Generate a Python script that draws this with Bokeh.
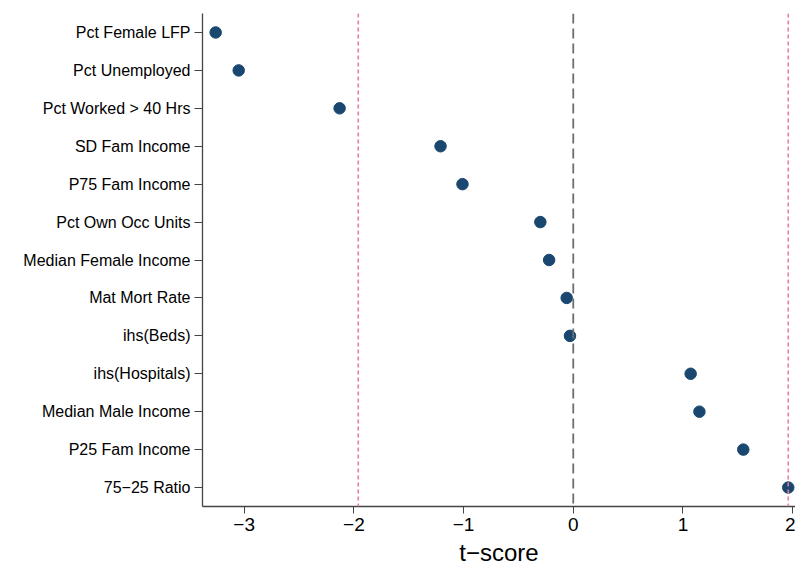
from bokeh.plotting import figure
from bokeh.models import Span, FactorRange, Range1d, FixedTicker
from bokeh.embed import file_html
from bokeh.resources import INLINE

categories = ["Pct Female LFP", "Pct Unemployed", "Pct Worked > 40 Hrs", "SD Fam Income",
              "P75 Fam Income", "Pct Own Occ Units", "Median Female Income", "Mat Mort Rate",
              "ihs(Beds)", "ihs(Hospitals)", "Median Male Income", "P25 Fam Income", "75\u221225 Ratio"]
tscores = [-3.26, -3.05, -2.13, -1.21, -1.01, -0.30, -0.22, -0.06, -0.03, 1.07, 1.15, 1.55, 1.96]
x_ticks = [-3, -2, -1, 0, 1, 2]
x_tick_labels = ["\u22123", "\u22122", "\u22121", "0", "1", "2"]
crit = [-1.96, 1.96]

p = figure(width=795, height=568, output_backend="svg", toolbar_location=None,
           y_range=FactorRange(factors=list(reversed(categories))),
           x_range=Range1d(-3.38, 2.026),
           min_border_left=202, min_border_right=0, min_border_top=13, min_border_bottom=61)

p.xgrid.visible = False
p.ygrid.visible = False
p.outline_line_color = None

for c in crit:
    p.add_layout(Span(location=c, dimension="height", line_color="#ea7f98",
                      line_dash="4 3", line_width=1.6))
p.add_layout(Span(location=0, dimension="height", line_color="#6e6e6e",
                  line_dash="10 5", line_width=1.8))

p.scatter(tscores, categories, size=11.5, color="#1a476f", line_color="#1a476f")

p.xaxis.ticker = FixedTicker(ticks=x_ticks)
p.xaxis.major_label_overrides = {t: l for t, l in zip(x_ticks, x_tick_labels)}
p.xaxis.axis_label = "t\u2212score"
p.xaxis.axis_label_text_font = "Liberation Sans"
p.xaxis.axis_label_text_font_style = "normal"
p.xaxis.axis_label_text_font_size = "24px"
p.xaxis.axis_label_standoff = 5
p.xaxis.major_label_text_font = "Liberation Sans"
p.xaxis.major_label_text_font_size = "19px"
p.xaxis.major_label_standoff = 4
p.xaxis.minor_tick_line_color = None
p.xaxis.major_tick_out = 7
p.xaxis.major_tick_in = 0

p.yaxis.major_label_text_font = "Liberation Sans"
p.yaxis.major_label_text_font_size = "16px"
p.yaxis.major_label_standoff = 4
p.yaxis.major_tick_out = 8
p.yaxis.major_tick_in = 0

for ax in (p.xaxis, p.yaxis):
    ax.axis_line_color = "#444444"
    ax.axis_line_width = 1.3
    ax.major_tick_line_color = "#444444"
    ax.major_label_text_color = "black"
    ax.axis_label_text_color = "black"

open("out.html", "w").write(file_html(p, INLINE))
